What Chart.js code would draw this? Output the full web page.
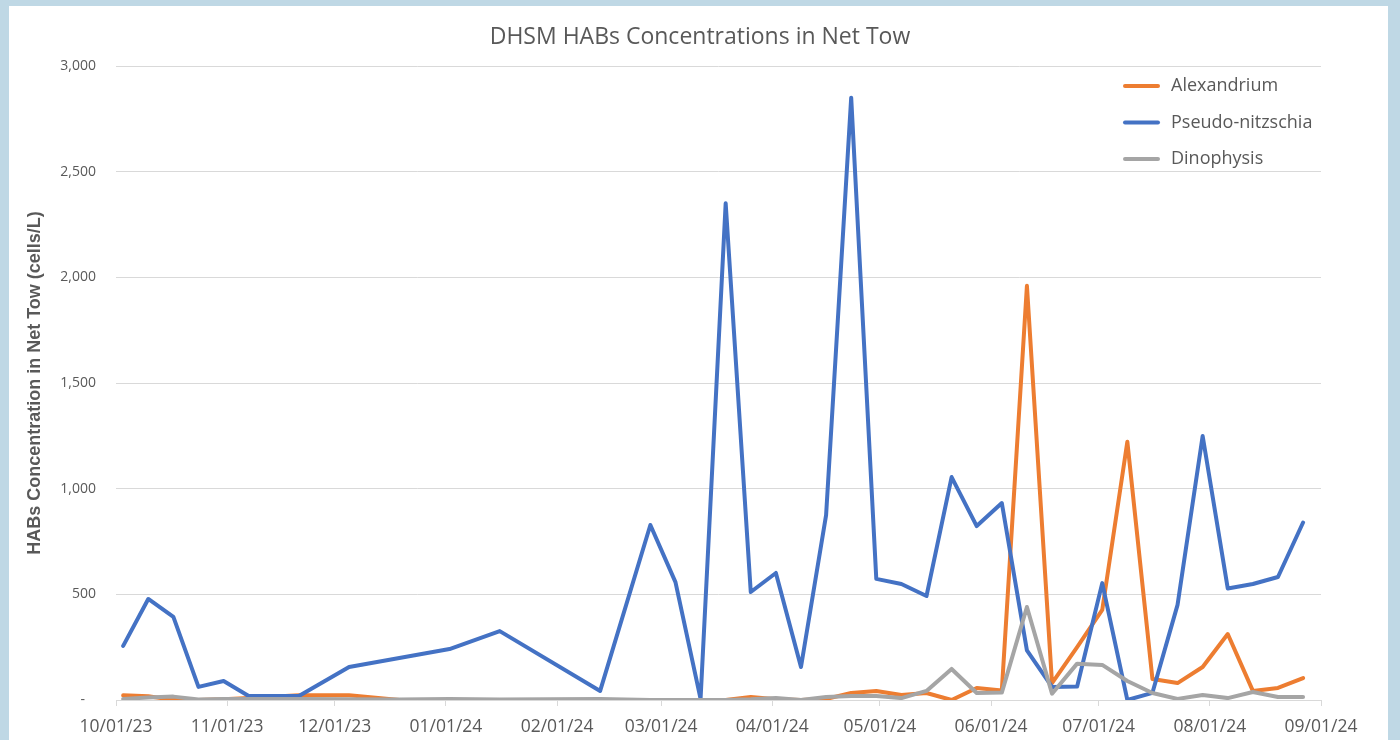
<!DOCTYPE html>
<html>
<head>
<meta charset="utf-8">
<title>DHSM HABs Concentrations in Net Tow</title>
<script src="https://cdn.jsdelivr.net/npm/chart.js@4.4.1/dist/chart.umd.min.js"></script>
<style>
  html, body { margin: 0; padding: 0; background: #bfd8e5; }
  #wrap { position: absolute; left: 0; top: 0; width: 1400px; height: 740px; }
</style>
</head>
<body>
<div id="wrap"><canvas id="habChart" width="1400" height="740"></canvas></div>
<script>
/* sampling dates (weekly net tows) */
const sampleDates = [
  '2023-10-03', '2023-10-10', '2023-10-17', '2023-10-24', '2023-10-31', '2023-11-07',
  '2023-11-21', '2023-12-05', '2023-12-19', '2024-01-02', '2024-01-16', '2024-02-13',
  '2024-02-27', '2024-03-05', '2024-03-12', '2024-03-19', '2024-03-26', '2024-04-02',
  '2024-04-09', '2024-04-16', '2024-04-23', '2024-04-30', '2024-05-07', '2024-05-14',
  '2024-05-21', '2024-05-28', '2024-06-04', '2024-06-11', '2024-06-18', '2024-06-25',
  '2024-07-02', '2024-07-09', '2024-07-16', '2024-07-23', '2024-07-30', '2024-08-06',
  '2024-08-13', '2024-08-20', '2024-08-27'
];

/* cells/L */
const alexandrium = [
  22, 18, 0, 0, 3, 10, 22, 22, 0, 0, 0, 0,
  0, 0, 0, 0, 14, 3, 0, 5, 33, 43, 24, 33,
  0, 57, 45, 1960, 80, 250, 426, 1222, 99, 80, 156, 312,
  43, 57, 104
];
const pseudoNitzschia = [
  256, 478, 393, 62, 90, 19, 19, 156, 199, 241, 326, 43,
  828, 558, 5, 2350, 511, 601, 156, 875, 2850, 573, 549, 492,
  1055, 823, 932, 235, 62, 64, 553, 0, 34, 450, 1249, 528,
  549, 582, 840
];
const dinophysis = [
  5, 12, 16, 2, 5, 5, 5, 3, 2, 5, 2, 5,
  0, 0, 0, 0, 3, 9, 0, 14, 19, 19, 9, 43,
  147, 33, 35, 440, 30, 172, 166, 90, 33, 5, 24, 9,
  38, 14, 14
];

const seriesNames = ['Alexandrium', 'Pseudo-nitzschia', 'Dinophysis'];
const seriesColors = ['#ed7d31', '#4472c4', '#a5a5a5'];

/* axis ticks */
const monthTicks = [
  '2023-10-01', '2023-11-01', '2023-12-01', '2024-01-01', '2024-02-01', '2024-03-01',
  '2024-04-01', '2024-05-01', '2024-06-01', '2024-07-01', '2024-08-01', '2024-09-01'
];
const yTicks = [0, 500, 1000, 1500, 2000, 2500, 3000];

const chartTitle = 'DHSM HABs Concentrations in Net Tow';


// dates -> days since first month tick (no date adapter offline)
const DAY = 86400000;
const toUTC = s => { const p = s.split('-'); return Date.UTC(+p[0], +p[1] - 1, +p[2]); };
const origin = toUTC(monthTicks[0]);
const toDay = s => (toUTC(s) - origin) / DAY;

const fmtDate = d => {
  const t = new Date(origin + Math.round(d) * DAY);
  const mm = String(t.getUTCMonth() + 1).padStart(2, '0');
  const dd = String(t.getUTCDate()).padStart(2, '0');
  const yy = String(t.getUTCFullYear()).slice(2);
  return mm + '/' + dd + '/' + yy;
};

const points = vals => vals.map((v, i) => ({ x: toDay(sampleDates[i]), y: v }));

const textGrey = '#595959';
const gridGrey = '#d9d9d9';
const uiFont = '"Open Sans", Lato, sans-serif';

const makeSet = (i, vals) => ({
  label: seriesNames[i],
  data: points(vals),
  borderColor: seriesColors[i],
  backgroundColor: seriesColors[i],
  borderWidth: 4,
  pointRadius: 0,
  pointHoverRadius: 0,
  tension: 0,
  borderJoinStyle: 'round',
  borderCapStyle: 'round',
  order: 3 - i   // excel paints the last series on top
});

/* frame + white chart panel */
const framePlugin = {
  id: 'frame',
  beforeDraw(chart) {
    const c = chart.ctx;
    c.save();
    c.fillStyle = '#bfd8e5';
    c.fillRect(0, 0, chart.width, chart.height);
    c.fillStyle = '#ffffff';
    c.fillRect(9, 6, 1379, chart.height - 6);
    c.restore();
  }
};

/* title centred on the whole panel, legend stacked inside the plot */
const annotations = {
  id: 'annotations',
  afterDraw(chart) {
    const c = chart.ctx;
    c.save();
    c.fillStyle = textGrey;
    c.textBaseline = 'middle';
    c.textAlign = 'center';
    c.font = '23px ' + uiFont;
    c.fillText(chartTitle, 700, 37);

    c.font = '18px ' + uiFont;
    c.textAlign = 'left';
    chart.data.datasets.forEach((ds, i) => {
      const y = 86 + i * 36.5;
      c.strokeStyle = ds.borderColor;
      c.lineWidth = 4;
      c.lineCap = 'round';
      c.beginPath();
      c.moveTo(1125, y);
      c.lineTo(1158, y);
      c.stroke();
      c.fillStyle = textGrey;
      c.fillText(ds.label, 1171, y);
    });
    c.restore();
  }
};

new Chart(document.getElementById('habChart'), {
  type: 'line',
  data: {
    datasets: [
      makeSet(0, alexandrium),
      makeSet(1, pseudoNitzschia),
      makeSet(2, dinophysis)
    ]
  },
  options: {
    responsive: false,
    animation: false,
    events: [],
    layout: { padding: { top: 66, right: 79, bottom: 0, left: 0 } },
    plugins: {
      legend: { display: false },
      tooltip: { enabled: false },
      title: { display: false }
    },
    scales: {
      x: {
        type: 'linear',
        min: toDay(monthTicks[0]),
        max: toDay(monthTicks[monthTicks.length - 1]),
        afterBuildTicks: s => { s.ticks = monthTicks.map(m => ({ value: toDay(m) })); },
        afterFit: s => { s.height = 40; },
        border: { display: true, color: gridGrey, width: 1 },
        grid: { drawOnChartArea: false, drawTicks: true, tickLength: 6, color: gridGrey },
        ticks: {
          color: textGrey,
          font: { family: uiFont, size: 17.5 },
          padding: 11,
          maxRotation: 0,
          autoSkip: false,
          callback: v => fmtDate(v)
        }
      },
      y: {
        min: yTicks[0],
        max: yTicks[yTicks.length - 1],
        afterBuildTicks: s => { s.ticks = yTicks.map(v => ({ value: v })); },
        afterFit: s => { s.width = 116; },
        border: { display: false },
        grid: { color: gridGrey, lineWidth: 1, drawTicks: false },
        ticks: {
          color: textGrey,
          font: { family: uiFont, size: 14 },
          padding: 20,
          callback: v => v === 0 ? '-   ' : v.toLocaleString('en-US')
        },
        title: {
          display: true,
          text: 'HABs Concentration in Net Tow (cells/L)',
          color: textGrey,
          font: { family: '"Liberation Sans", Arial, sans-serif', size: 18, weight: 'bold', lineHeight: 1.2 },
          padding: { top: 24, bottom: 0 }
        }
      }
    }
  },
  plugins: [framePlugin, annotations]
});
</script>
</body>
</html>
